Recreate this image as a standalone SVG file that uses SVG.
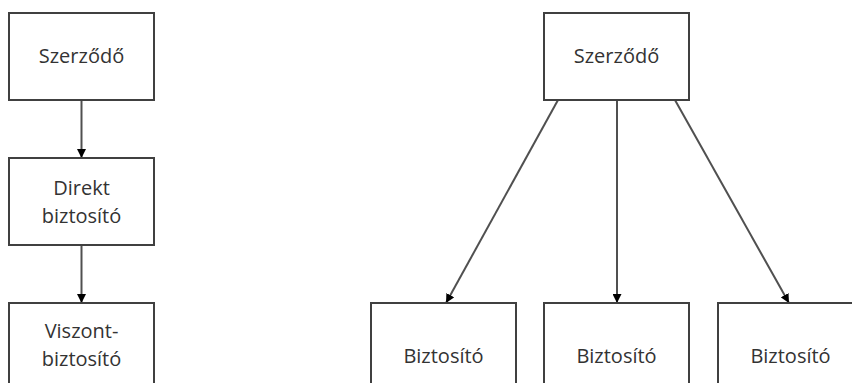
<svg xmlns="http://www.w3.org/2000/svg" width="852" height="383" viewBox="0 0 852 383">
<defs>
<marker id="ah" viewBox="0 0 10 10" refX="10" refY="5" markerWidth="9" markerHeight="9" markerUnits="userSpaceOnUse" orient="auto">
<path d="M0,0 L10,5 L0,10 Z" fill="#000"/>
</marker>
</defs>
<style>
.box{fill:#fff;stroke:#404040;stroke-width:2}
.t{font-family:"Open Sans","Liberation Sans",sans-serif;font-size:20px;fill:#333;text-anchor:middle}
.c{stroke:#505050;stroke-width:2;fill:none;marker-end:url(#ah)}
</style>
<rect width="852" height="383" fill="#fff"/>
<g id="connectors">
<line class="c" x1="81.5" y1="100" x2="81.5" y2="158"/>
<line class="c" x1="81.5" y1="245" x2="81.5" y2="303"/>
<line class="c" x1="558" y1="100" x2="446" y2="303"/>
<line class="c" x1="617" y1="100" x2="617" y2="303"/>
<line class="c" x1="675" y1="100" x2="789" y2="303"/>
</g>
<g id="n1"><rect class="box" x="9" y="13" width="145" height="87"/><text class="t" x="81.5" y="63">Szerződő</text></g>
<g id="n2"><rect class="box" x="9" y="158" width="145" height="87"/><text class="t" x="81.5" y="195">Direkt</text><text class="t" x="81.5" y="223">biztosító</text></g>
<g id="n3"><rect class="box" x="9" y="303" width="145" height="87"/><text class="t" x="81.5" y="338">Viszont-</text><text class="t" x="81.5" y="366">biztosító</text></g>
<g id="n4"><rect class="box" x="544" y="13" width="145" height="87"/><text class="t" x="616.5" y="63">Szerződő</text></g>
<g id="n5"><rect class="box" x="371" y="303" width="145" height="87"/><text class="t" x="443.5" y="363">Biztosító</text></g>
<g id="n6"><rect class="box" x="544" y="303" width="145" height="87"/><text class="t" x="616.5" y="363">Biztosító</text></g>
<g id="n7"><rect class="box" x="718" y="303" width="145" height="87"/><text class="t" x="790.5" y="363">Biztosító</text></g>
</svg>
